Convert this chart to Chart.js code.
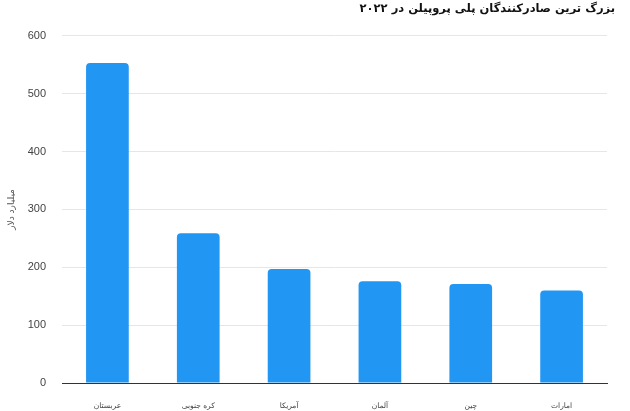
<!DOCTYPE html>
<html>
<head>
<meta charset="utf-8">
<script src="https://cdn.jsdelivr.net/npm/chart.js@4"></script>
<style>
  html, body { margin: 0; padding: 0; background: #fff; }
  #wrap { width: 630px; height: 411px; }
</style>
</head>
<body>
<div id="wrap"><canvas id="chart"></canvas></div>
<script>
// Top polypropylene exporters 2022 (billion dollars)
const countries = ['عربستان', 'کره جنوبی', 'آمریکا', 'آلمان', 'چین', 'امارات'];
const exportValues = [553, 259, 197, 176, 171, 160];
const chartTitle = 'بزرگ ترین صادرکنندگان پلی پروپیلن در ۲۰۲۲';
const yAxisTitle = 'میلیارد دلار';

const ctx = document.getElementById('chart').getContext('2d');
new Chart(ctx, {
    type: 'bar',
    data: {
        labels: countries,
        datasets: [{
            data: exportValues,
            backgroundColor: '#2196f3',
            borderRadius: { topLeft: 4, topRight: 4 },
            borderSkipped: 'bottom',
            barPercentage: 0.47,
            categoryPercentage: 1
        }]
    },
    options: {
        responsive: true,
        maintainAspectRatio: false,
        animation: false,
        layout: { padding: { top: 0, right: 15, bottom: 0, left: 6 } },
        plugins: {
            legend: { display: false },
            tooltip: { enabled: false },
            title: {
                display: true,
                text: chartTitle,
                align: 'end',
                color: '#111',
                font: { family: 'DejaVu Sans', size: 11.5, weight: 'bold' },
                padding: { top: 2, bottom: 20 }
            }
        },
        scales: {
            x: {
                grid: { display: false },
                border: { display: true, color: '#333', width: 1 },
                ticks: {
                    color: '#444',
                    padding: 11,
                    font: { family: 'DejaVu Sans', size: 7.5 }
                },
                afterFit: s => { s.height = 28; }
            },
            y: {
                min: 0,
                max: 600,
                ticks: {
                    stepSize: 100,
                    color: '#444',
                    padding: 16,
                    font: { family: 'Arial, Liberation Sans', size: 11 }
                },
                grid: {
                    drawTicks: false,
                    color: c => c.tick && c.tick.value === 0 ? 'rgba(0,0,0,0)' : '#e6e6e6'
                },
                border: { display: false },
                title: {
                    display: true,
                    text: yAxisTitle,
                    color: '#555',
                    font: { family: 'DejaVu Sans', size: 9 },
                    padding: { top: 0, bottom: 0 }
                },
                afterFit: s => { s.width = 56; }
            },
            // empty right-hand gutter so the title can sit past the plot edge
            yRight: {
                position: 'right',
                display: true,
                grid: { display: false },
                border: { display: false },
                ticks: { display: false },
                afterFit: s => { s.width = 8; }
            }
        }
    }
});
</script>
</body>
</html>
